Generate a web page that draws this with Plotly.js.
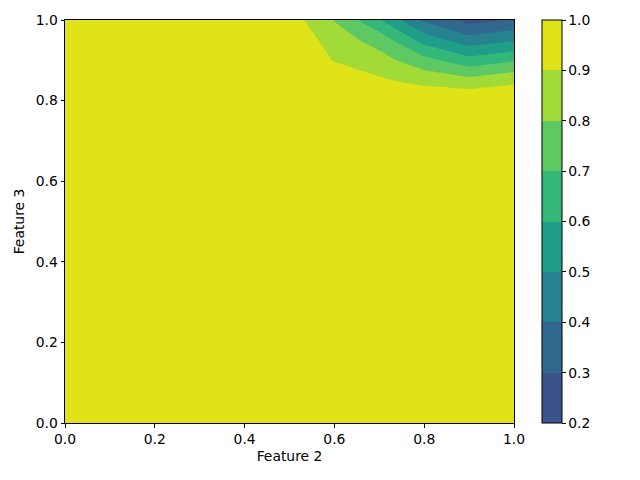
<!DOCTYPE html>
<html>
<head>
<meta charset="utf-8">
<script src="https://cdn.plot.ly/plotly-3.0.1.min.js"></script>
<style>
  html, body { margin: 0; padding: 0; background: #fff; }
  #plot { width: 640px; height: 480px; }
</style>
</head>
<body>
<div id="plot"></div>
<script>
// grid of the surface
var feature2 = [0, 0.5, 0.6, 0.7, 0.8, 0.9, 1.0];
var feature3 = [0, 0.8, 0.85, 0.9, 0.95, 1.0];

var zRow000 = [0.99, 0.99, 0.99,  0.99,  0.99,  0.99,  0.99];
var zRow080 = [0.99, 0.99, 0.99,  0.99,  0.99,  0.99,  0.98];
var zRow085 = [0.99, 0.99, 0.97,  0.915, 0.867, 0.833, 0.88];
var zRow090 = [0.99, 0.99, 0.895, 0.84,  0.735, 0.636, 0.69];
var zRow095 = [0.99, 0.99, 0.85,  0.76,  0.56,  0.445, 0.49];
var zRow100 = [0.99, 0.95, 0.795, 0.61,  0.38,  0.265, 0.31];

var levels = [0.2, 0.3, 0.4, 0.5, 0.6, 0.7, 0.8, 0.9, 1.0];
var bandColors = ['#3b528b', '#31688e', '#26828e', '#1f9e89',
                  '#35b779', '#5ec962', '#a2da37', '#dfe318'];

(function(window){
  var z = [zRow000, zRow080, zRow085, zRow090, zRow095, zRow100];
  var nb = bandColors.length;

  // contour fills are sampled at level midpoints, one slot per band
  // plus one below the first level and one above the last
  var fillScale = [[0, bandColors[0]]];
  for (var i = 0; i < nb; i++) {
    fillScale.push([(i + 1) / (nb + 1), bandColors[i]]);
  }
  fillScale.push([1, bandColors[nb - 1]]);

  // stepped scale for the colour bar
  var barScale = [];
  for (var j = 0; j < nb; j++) {
    barScale.push([j / nb, bandColors[j]]);
    barScale.push([(j + 1) / nb, bandColors[j]]);
  }

  var font = {family: 'DejaVu Sans, sans-serif', size: 13.9, color: '#000'};

  // hidden under the contour, only here to carry the colour bar
  var barTrace = {
    type: 'heatmap',
    x: feature2,
    y: feature3,
    z: z,
    zmin: levels[0],
    zmax: levels[levels.length - 1],
    colorscale: barScale,
    hoverinfo: 'skip',
    showscale: true,
    colorbar: {
      x: 1.062,
      xanchor: 'left',
      xpad: 0,
      y: 0.5,
      yanchor: 'middle',
      ypad: 0,
      len: 1,
      thickness: 20,
      outlinewidth: 1,
      outlinecolor: '#000',
      tickvals: levels,
      tickformat: '.1f',
      tickprefix: '\u00a0',
      ticks: 'outside',
      ticklen: 3.5,
      tickwidth: 1,
      tickcolor: '#000',
      tickfont: font
    }
  };

  var contourTrace = {
    type: 'contour',
    x: feature2,
    y: feature3,
    z: z,
    colorscale: fillScale,
    showscale: false,
    contours: {
      start: levels[0],
      end: levels[levels.length - 1],
      size: 0.1,
      coloring: 'fill',
      showlines: false
    },
    line: {width: 0, smoothing: 0}
  };

  var axisStyle = {
    range: [0, 1],
    dtick: 0.2,
    tick0: 0,
    tickformat: '.1f',
    ticks: 'outside',
    ticklen: 3.5,
    tickwidth: 1,
    tickcolor: '#000',
    showline: true,
    mirror: true,
    linecolor: '#000',
    linewidth: 1,
    showgrid: false,
    zeroline: false,
    tickfont: font
  };

  var layout = {
    width: 640,
    height: 480,
    margin: {l: 65, r: 126, t: 20, b: 57},
    paper_bgcolor: '#fff',
    plot_bgcolor: '#fff',
    font: font,
    showlegend: false,
    xaxis: Object.assign({}, axisStyle, {
      title: {text: 'Feature 2', font: font, standoff: 5}
    }),
    yaxis: Object.assign({}, axisStyle, {
      title: {text: 'Feature 3', font: font, standoff: 7}
    })
  };

  Plotly.newPlot('plot', [barTrace, contourTrace], layout, {staticPlot: true, displayModeBar: false});
})(window);
</script>
</body>
</html>
